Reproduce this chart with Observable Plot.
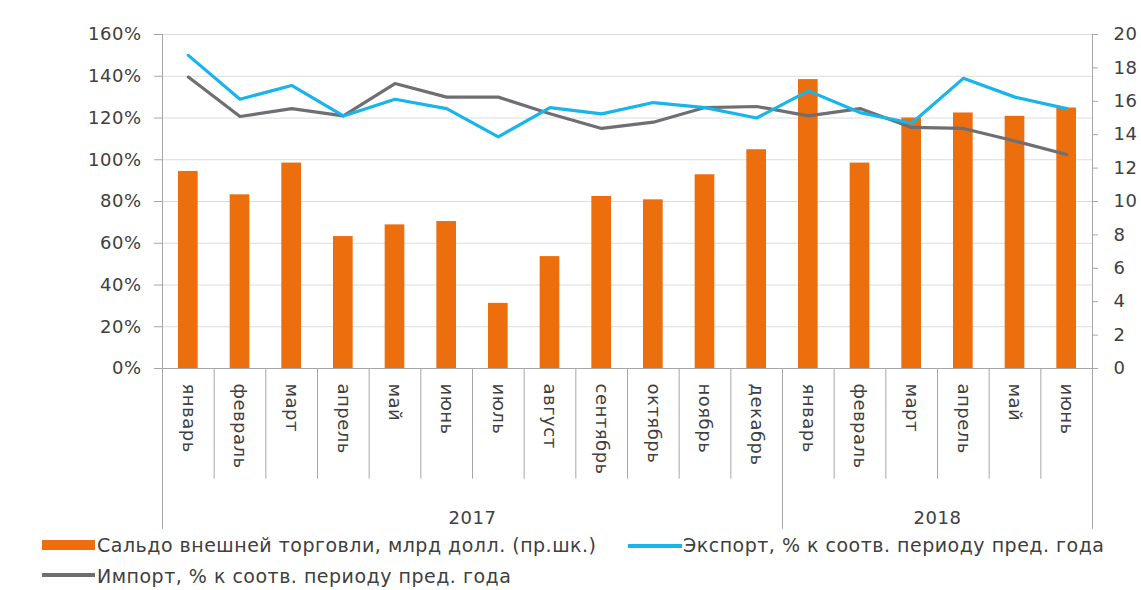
<!DOCTYPE html>
<html>
<head>
<meta charset="utf-8">
<script src="https://cdn.jsdelivr.net/npm/d3@7"></script>
<script src="https://cdn.jsdelivr.net/npm/@observablehq/plot@0.6"></script>
<style>
  html, body { margin: 0; padding: 0; background: #fff; }
  #wrap { position: relative; width: 1141px; height: 590px; font-family: "DejaVu Sans", sans-serif; color: #404040; overflow: hidden; }
  .lg { position: absolute; font-size: 19px; letter-spacing: 0.5px; line-height: 22px; white-space: nowrap; color: #404040; }
  .sw { position: absolute; }
</style>
</head>
<body>
<div id="wrap"></div>
<script>
const months = ["январь","февраль","март","апрель","май","июнь","июль","август","сентябрь","октябрь","ноябрь","декабрь","январь","февраль","март","апрель","май","июнь"];
const years = ["2017","2017","2017","2017","2017","2017","2017","2017","2017","2017","2017","2017","2018","2018","2018","2018","2018","2018"];
const balance = [11.8,10.4,12.3,7.9,8.6,8.8,3.9,6.7,10.3,10.1,11.6,13.1,17.3,12.3,15.0,15.3,15.1,15.6];
const exportPct = [150,129,135.6,121,129,124.5,111,125,122,127.4,125,120,133,122.6,117.5,139,130,124.5];
const importPct = [139.6,120.7,124.5,121,136.5,130,130,122,115,118,125,125.5,121,124.5,115.5,115,109,102.5];
const leftTicks = [0,20,40,60,80,100,120,140,160];
const rightTicks = [0,2,4,6,8,10,12,14,16,18,20];
const legendLabels = ["Сальдо внешней торговли, млрд долл. (пр.шк.)","Экспорт, % к соотв. периоду пред. года","Импорт, % к соотв. периоду пред. года"];

const colors = {bar: "#ec6e0c", exp: "#18b4ec", imp: "#6f6f73", axis: "#a6a6a6", grid: "#dcdcdc", text: "#404040"};
const ratio = 160 / 20; // right axis (0..20) mapped onto left axis (0..160%)

const data = months.map((m, i) => ({i, month: m, year: years[i], balance: balance[i], exp: exportPct[i], imp: importPct[i]}));

// group boundaries
const yearGroups = d3.groups(data, d => d.year).map(([y, arr]) => ({year: y, start: arr[0].i, end: arr[arr.length - 1].i + 1}));
const longSeps = [0, ...yearGroups.map(g => g.end)];
const shortSeps = d3.range(1, months.length).filter(i => !longSeps.includes(i));

const chart = Plot.plot({
  width: 1141,
  height: 535,
  marginTop: 34,
  marginBottom: 167,
  marginLeft: 162,
  marginRight: 49,
  style: {fontFamily: "DejaVu Sans, sans-serif", fontSize: "18px", letterSpacing: "0.5px", color: colors.text, background: "#fff", overflow: "visible"},
  x: {type: "linear", domain: [0, months.length], axis: null},
  y: {domain: [0, 160], axis: null},
  marks: [
    Plot.ruleY(leftTicks.filter(t => t > 0), {stroke: colors.grid, strokeWidth: 1}),
    Plot.rectY(data, {x1: d => d.i, x2: d => d.i + 1, y1: 0, y2: d => d.balance * ratio, fill: colors.bar, insetLeft: 16, insetRight: 16}),
    Plot.line(data, {x: d => d.i + 0.5, y: "imp", stroke: colors.imp, strokeWidth: 3.2}),
    Plot.line(data, {x: d => d.i + 0.5, y: "exp", stroke: colors.exp, strokeWidth: 3.2}),
    // axis lines
    Plot.ruleX([0, months.length], {y1: 0, y2: 160, stroke: colors.axis}),
    Plot.ruleY([0], {stroke: colors.axis}),
    Plot.axisY({anchor: "left", ticks: leftTicks, tickFormat: d => d + "%", tickSize: 8, tickPadding: 13, stroke: colors.axis, fill: colors.text, label: null}),
    Plot.axisY({anchor: "right", ticks: rightTicks.map(t => t * ratio), tickFormat: d => String(d / ratio), tickSize: 5, tickPadding: 16, stroke: colors.axis, fill: colors.text, textAnchor: "start", label: null}),
    // category labels
    Plot.axisX({anchor: "bottom", ticks: d3.range(months.length).map(i => i + 0.5), tickFormat: d => months[Math.floor(d)], tickRotate: 90, tickSize: 0, tickPadding: 15, fill: colors.text, label: null}),
    // separators
    Plot.ruleX(shortSeps, {y1: 0, y2: -53, stroke: colors.axis}),
    Plot.ruleX(longSeps, {y1: 0, y2: -77, stroke: colors.axis}),
    Plot.text(yearGroups, {x: g => (g.start + g.end) / 2, y: -71.5, text: "year", fill: colors.text, fontSize: 18})
  ]
});

const wrap = document.getElementById("wrap");
wrap.appendChild(chart);

function addSwatch(x, y, w, h, color) {
  const s = document.createElement("div");
  s.className = "sw";
  s.style.left = x + "px"; s.style.top = y + "px"; s.style.width = w + "px"; s.style.height = h + "px"; s.style.background = color;
  wrap.appendChild(s);
}
function addLabel(x, y, t) {
  const l = document.createElement("div");
  l.className = "lg";
  l.style.left = x + "px"; l.style.top = y + "px";
  l.textContent = t;
  wrap.appendChild(l);
}
addSwatch(42, 540, 53, 10, colors.bar);
addLabel(97, 534, legendLabels[0]);
addSwatch(628, 544, 54, 4, colors.exp);
addLabel(683, 534, legendLabels[1]);
addSwatch(42, 573, 53, 4, colors.imp);
addLabel(97, 565, legendLabels[2]);
</script>
</body>
</html>
